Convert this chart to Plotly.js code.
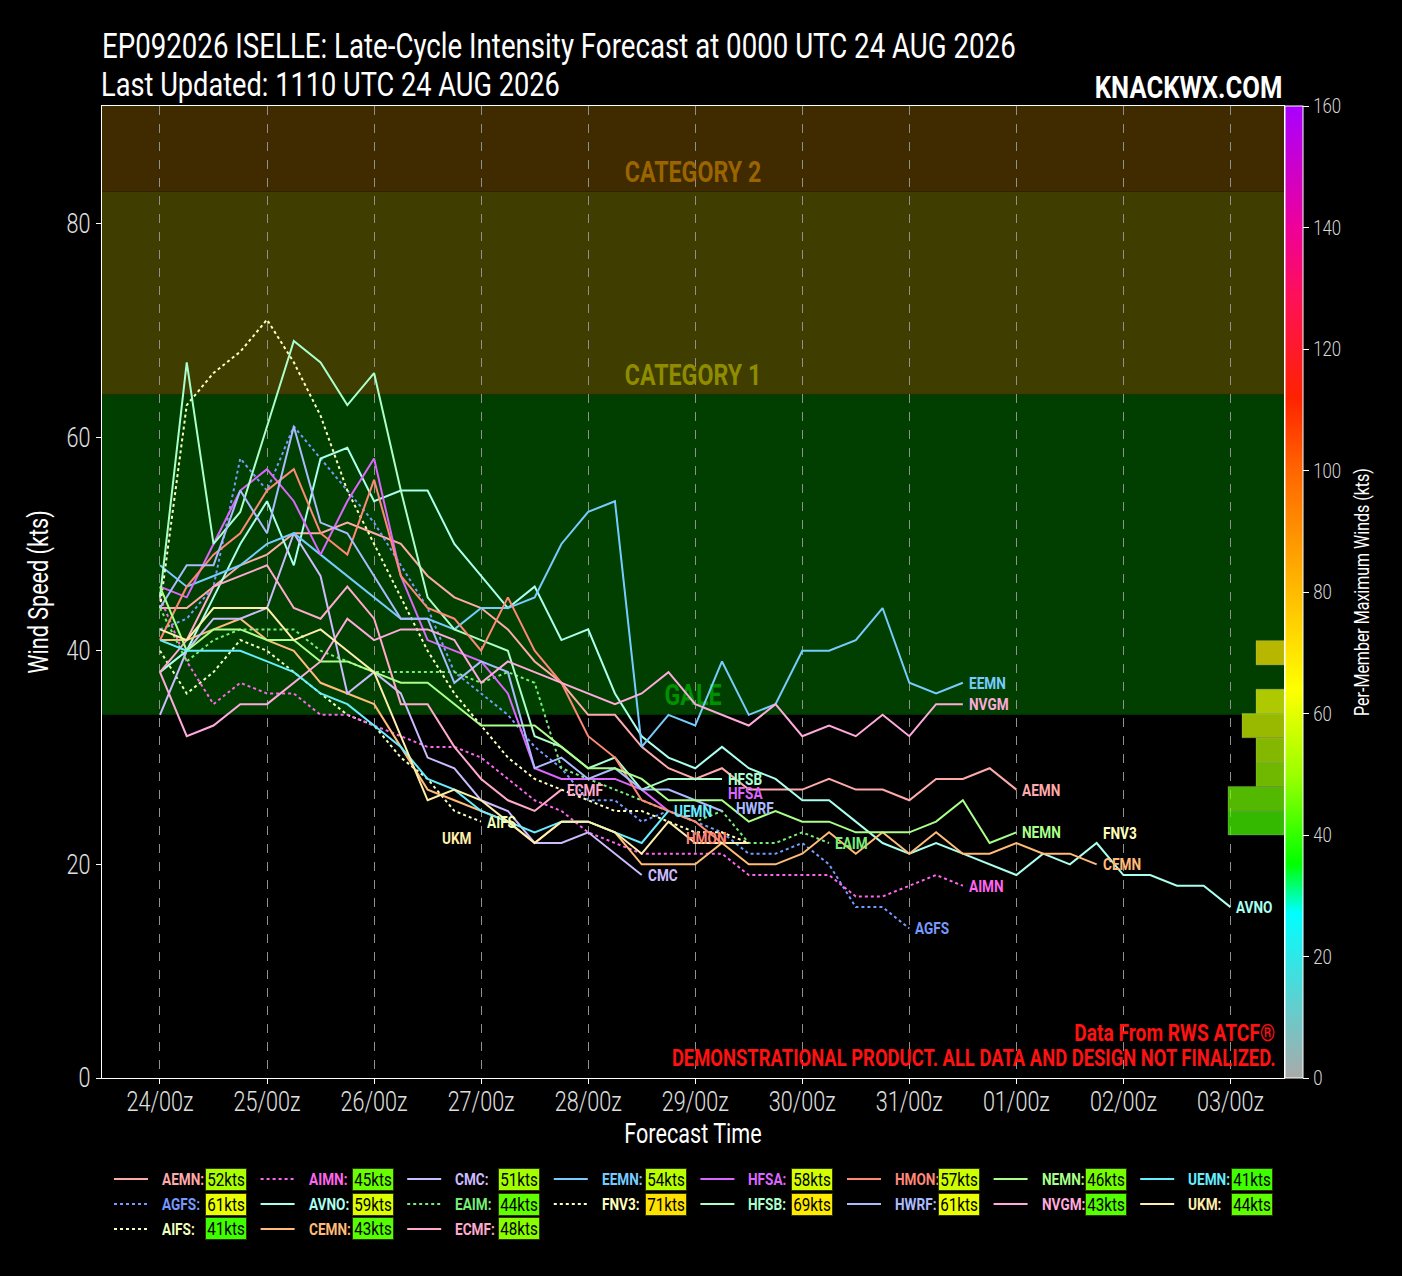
<!DOCTYPE html>
<html>
<head>
<meta charset="utf-8">
<script src="https://cdn.plot.ly/plotly-3.0.1.min.js"></script>
<style>
html,body{margin:0;padding:0;background:#000;}
#chart{width:1402px;height:1276px;}
</style>
</head>
<body>
<div id="chart"></div>
<script>
// ---------------- DATA ----------------
const FHOURS = [0,6,12,18,24,30,36,42,48,54,60,66,72,78,84,90,96,102,108,114,120,126,132,138,144,150,156,162,168,174,180,186,192,198,204,210,216,222,228,234,240];
const MODELS = ['AEMN','AGFS','AIFS','AIMN','AVNO','CEMN','CMC','EAIM','ECMF','EEMN','FNV3','HFSA','HFSB','HMON','HWRF','NEMN','NVGM','UEMN','UKM'];

const AEMN = [44,44,46,48,49,51,51,52,51,50,47,45,44,42,39,37,34,34,31,29,28,29,27,27,27,28,27,27,26,28,28,29,27];
const AGFS = [42,43,46,58,55,61,58,55,52,48,44,38,36,34,31,29,26,26,24,25,24,23,21,21,22,20,16,16,14];
const AIFS = [40,36,38,41,40,38,36,34,33,30,28,25,24];
const AIMN = [45,39,35,37,36,36,34,34,33,32,31,31,30,28,26,25,23,22,21,21,21,21,19,19,19,19,17,17,18,19,18];
const AVNO = [38,40,45,50,54,48,58,59,54,55,55,50,47,44,46,41,42,36,32,30,29,31,29,28,26,26,24,22,21,22,21,20,19,21,20,22,19,19,18,18,16];
const CEMN = [41,41,42,43,41,40,37,36,35,31,27,26,25,24,22,24,24,23,20,20,20,22,20,20,21,23,21,23,21,23,21,21,22,21,21,20];
const CMC  = [34,40,43,43,44,51,47,36,38,36,30,29,26,25,22,22,23,21,19];
const EAIM = [44,39,41,42,42,42,40,39,38,38,38,38,37,38,37,29,28,27,26,25,24,25,22,22,23,22];
const ECMF = [38,41,46,47,48,44,43,46,43,35,35,31,28,26,25,27];
const EEMN = [48,46,47,48,50,51,49,47,45,43,43,42,44,44,45,50,53,54,31,34,33,39,34,35,40,40,41,44,37,36,37];
const FNV3 = [44,63,66,68,71,67,62,55,50,45,40,36,33,30,28,27,26,25,25,24,23,23,22];
const HFSA = [46,45,50,55,57,54,49,54,58,47,41,40,39,36,29,28,28,28,27,25];
const HFSB = [45,67,50,53,61,69,67,63,66,55,45,42,41,40,32,31,29,30,27,28,28,28];
const HMON = [41,46,49,51,55,57,51,49,56,47,44,43,40,45,40,37,32,30,26,25,24,22];
const HWRF = [44,48,48,55,51,61,52,51,47,43,43,37,39,38,29,30,28,29,27,27,26,25];
const NEMN = [46,40,42,42,41,41,39,39,38,37,37,35,33,33,33,31,29,29,28,26,26,26,24,25,24,24,23,23,23,24,26,22,23];
const NVGM = [38,32,33,35,35,37,39,43,41,42,42,41,37,39,38,37,36,35,36,38,35,34,33,35,32,33,32,34,32,35,35];
const UEMN = [41,40,40,40,39,38,36,35,33,31,28,27,25,24,23,24,24,23,22,25];
const UKM  = [42,41,44,44,44,41,42,40,38,32,26,27,26,24,22,24,24,23,21,24,22,22,22];

const SERIES = {AEMN,AGFS,AIFS,AIMN,AVNO,CEMN,CMC,EAIM,ECMF,EEMN,FNV3,HFSA,HFSB,HMON,HWRF,NEMN,NVGM,UEMN,UKM};

// intensity bands (kts)
const BAND_NAMES = ['GALE','CATEGORY 1','CATEGORY 2'];
const BAND_LOW  = [34, 64, 83];
const BAND_HIGH = [64, 83, 96];

// histogram bins of per-member maximum winds
const BIN_START = 0, BIN_SIZE = 4, BIN_END = 160;

// ---------------- STYLE ----------------
const COLORS = {AEMN:'#ffaaaa',AGFS:'#7799ff',AIFS:'#eeffbb',AIMN:'#ff66ee',AVNO:'#aaffee',CEMN:'#ffbb77',CMC:'#ccbbff',EAIM:'#77ee77',ECMF:'#ffaacc',EEMN:'#77ccff',FNV3:'#ffffbb',HFSA:'#dd66ff',HFSB:'#aaffcc',HMON:'#ff8877',HWRF:'#aabbff',NEMN:'#aaff88',NVGM:'#ffaadd',UEMN:'#66eeff',UKM:'#ffeeaa'};
const DOTTED = {AGFS:1,AIFS:1,AIMN:1,EAIM:1,FNV3:1};
const BAND_FILL = ['#003f00','#3f3d00','#402a00'];
const BAND_TEXT = ['#009000','#8f8c00','#9a6400'];
const FONT = 'Roboto, "Liberation Sans", sans-serif';
const SQUEEZE = 0.8;   // horizontal condensing of all text (condensed look)
const CSCALE = [[0,'#aaaaaa'],[0.07,'#66cccc'],[0.17,'#00ffff'],[0.22,'#00ff00'],[0.31,'#99ff00'],[0.40,'#ffff00'],[0.5,'#ffbb00'],[0.625,'#ff6600'],[0.70,'#ff2200'],[0.80,'#ff1155'],[0.875,'#ee0099'],[1,'#aa00ff']];
const XRANGE = ['2026-08-23 11:00','2026-09-03 12:00'];
// label placement tweaks for crowded end labels
const LABEL_OVERRIDE = {
  UKM:  {x:'2026-08-26 13:50', y:22.5},
  FNV3: {x:'2026-09-01 18:00', y:22.9},
  HMON: {x:'2026-08-28 20:30', y:22.5},
  HFSA: {x:'2026-08-29 06:00', y:26.7},
  HWRF: {dx:8, y:25.3}
};

// ---------------- HELPERS ----------------
const START = Date.UTC(2026,7,24,0,0,0);
function tstr(h){ return new Date(START + h*3600e3).toISOString().slice(0,16).replace('T',' '); }
function hex2rgb(h){ h=h.replace('#',''); return [parseInt(h.slice(0,2),16),parseInt(h.slice(2,4),16),parseInt(h.slice(4,6),16)]; }
function cs(v){ const f=Math.max(0,Math.min(1,v/160));
  for(let i=1;i<CSCALE.length;i++){ if(f<=CSCALE[i][0]){ const a=CSCALE[i-1],b=CSCALE[i]; const t=(f-a[0])/(b[0]-a[0]);
      const ca=hex2rgb(a[1]), cb=hex2rgb(b[1]); return 'rgb('+ca.map((c,k)=>Math.round(c+(cb[k]-c)*t)).join(',')+')'; } }
  return CSCALE[CSCALE.length-1][1]; }

const L=102, R=1284, T=106, B=1078;
const px2paperX = p => (p-L)/(R-L);
const px2paperY = p => (B-p)/(B-T);

// ---------------- TRACES ----------------
const traces = [];
const annotations = [];
const shapes = [];
const maxes = {};

// band labels (drawn first so the member lines pass over them)
const midT = new Date((Date.parse(XRANGE[0]+'Z')+Date.parse(XRANGE[1]+'Z'))/2).toISOString().slice(0,16).replace('T',' ');
traces.push({type:'scatter',mode:'text',x:BAND_NAMES.map(()=>midT),y:BAND_LOW.map(v=>v+1.6),text:BAND_NAMES,
  textposition:'middle center',textfont:{family:FONT,size:29,color:BAND_TEXT,weight:'bold'},
  hoverinfo:'skip',showlegend:false,cliponaxis:false});

MODELS.forEach(m=>{
  const v = SERIES[m];
  maxes[m] = Math.max(...v);
  traces.push({type:'scatter',mode:'lines',name:m,x:v.map((_,i)=>tstr(FHOURS[i])),y:v,
    line:{color:COLORS[m],width:2,dash:DOTTED[m]?'dot':'solid'},showlegend:false,hoverinfo:'skip',xaxis:'x',yaxis:'y'});
  const o = LABEL_OVERRIDE[m]||{};
  annotations.push({x:o.x||tstr(FHOURS[v.length-1]),y:(o.y!==undefined?o.y:v[v.length-1]),xref:'x',yref:'y',
    text:'<b>'+m+'</b>',showarrow:false,xanchor:'left',align:'left',yanchor:'middle',xshift:4+(o.dx||0),
    font:{family:FONT,size:17,color:COLORS[m]}});
});

// histogram of maxima
const binCenters=[], binCounts=[];
for(let lo=BIN_START; lo<BIN_END; lo+=BIN_SIZE){
  const c = MODELS.filter(m=>maxes[m]>=lo && maxes[m]<lo+BIN_SIZE).length;
  if(c>0){ binCenters.push(lo+BIN_SIZE/2); binCounts.push(c); }
}
traces.push({type:'bar',orientation:'h',x:binCounts,y:binCenters,width:BIN_SIZE,xaxis:'x2',yaxis:'y2',
  hoverinfo:'skip',showlegend:false,opacity:0.72,
  marker:{color:binCenters,colorscale:CSCALE,cmin:0,cmax:160,showscale:true,
    line:{color:'rgba(255,255,255,0.25)',width:1},
    colorbar:{x:1.0005,xanchor:'left',xpad:0,ypad:0,y:0.5,yanchor:'middle',len:1,lenmode:'fraction',thickness:18,
      outlinecolor:'#ffffff',outlinewidth:1,ticks:'outside',ticklen:6,tickcolor:'#ffffff',tickwidth:1,
      tickvals:[0,20,40,60,80,100,120,140,160],
      tickfont:{family:FONT,size:21,color:'#d8d8d8',weight:300},
      title:{text:'Per-Member Maximum Winds (kts)',side:'right',font:{family:FONT,size:20,color:'#ffffff'}}}}
});

// bands
BAND_NAMES.forEach((nm,i)=>{
  shapes.push({type:'rect',xref:'paper',yref:'y',x0:0,x1:1,y0:BAND_LOW[i],y1:BAND_HIGH[i],fillcolor:BAND_FILL[i],line:{width:0},layer:'below'});
});

// custom legend (8 columns, column-major like matplotlib)
const NCOL=8, nrows=Math.ceil(MODELS.length/NCOL), extra=MODELS.length-NCOL*(nrows-1);
let idx=0;
for(let c=0;c<NCOL;c++){
  const n = c<extra? nrows : nrows-1;
  for(let r=0;r<n;r++){
    const m = MODELS[idx++]; if(!m) break;
    const x0 = 114 + c*146.6, yc = 1179 + r*25;
    shapes.push({type:'line',xref:'paper',yref:'paper',x0:px2paperX(x0),x1:px2paperX(x0+34),y0:px2paperY(yc),y1:px2paperY(yc),
      line:{color:COLORS[m],width:2,dash:DOTTED[m]?'dot':'solid'}});
    annotations.push({xref:'paper',yref:'paper',x:px2paperX(x0+46),y:px2paperY(yc),text:'<b>'+m+':</b>',showarrow:false,
      xanchor:'left',align:'left',yanchor:'middle',font:{family:FONT,size:17,color:COLORS[m]}});
    annotations.push({xref:'paper',yref:'paper',x:px2paperX(x0+91),y:px2paperY(yc),text:maxes[m]+'kts',showarrow:false,
      xanchor:'left',yanchor:'middle',bgcolor:cs(maxes[m]),bordercolor:'#333300',borderwidth:1,borderpad:1,width:38,height:19,
      font:{family:FONT,size:19,color:'#000000'}});
  }
}

// header / footer texts
annotations.push({xref:'paper',yref:'paper',x:0,y:px2paperY(84),xshift:-3,text:'Last Updated: 1110 UTC 24 AUG 2026',showarrow:false,xanchor:'left',align:'left',yanchor:'middle',
  font:{family:FONT,size:34,color:'#ffffff'}});
annotations.push({xref:'paper',yref:'paper',x:1,y:px2paperY(87),text:'<b>KNACKWX.COM</b>',showarrow:false,xanchor:'right',align:'right',yanchor:'middle',
  font:{family:FONT,size:32,color:'#ffffff'}});
annotations.push({xref:'paper',yref:'paper',x:px2paperX(1277),y:px2paperY(1033),text:'<b>Data From RWS ATCF®</b>',showarrow:false,xanchor:'right',align:'right',yanchor:'middle',
  font:{family:FONT,size:24,color:'#ff1111'}});
annotations.push({xref:'paper',yref:'paper',x:px2paperX(1277),y:px2paperY(1058),text:'<b>DEMONSTRATIONAL PRODUCT. ALL DATA AND DESIGN NOT FINALIZED.</b>',showarrow:false,xanchor:'right',align:'right',yanchor:'middle',
  font:{family:FONT,size:23,color:'#ff1111'}});

const layout = {
  width:1402,height:1276,
  paper_bgcolor:'#000000',plot_bgcolor:'#000000',
  margin:{l:L,r:1402-R,t:T,b:1276-B,pad:0},
  font:{family:FONT,color:'#ffffff'},
  title:{text:'EP092026 ISELLE: Late-Cycle Intensity Forecast at 0000 UTC 24 AUG 2026',
    x:L/1402,xanchor:'left',xref:'container',y:1-46/1276,yanchor:'middle',yref:'container',
    font:{family:FONT,size:34.6,color:'#ffffff'}},
  xaxis:{type:'date',range:XRANGE,tick0:'2026-08-24',dtick:86400000,tickformat:'%d/%Hz',
    showgrid:true,gridcolor:'#909090',griddash:'dash',gridwidth:1,zeroline:false,
    showline:true,mirror:true,linecolor:'#ffffff',linewidth:1,ticks:'outside',ticklen:5,tickcolor:'#ffffff',
    ticklabelstandoff:-5,
    tickfont:{family:FONT,size:27,color:'#e0e0e0',weight:300},
    title:{text:'Forecast Time',font:{family:FONT,size:27,color:'#ffffff'},standoff:0}},
  yaxis:{range:[0,91],dtick:20,showgrid:false,zeroline:false,showline:true,mirror:true,linecolor:'#ffffff',linewidth:1,
    ticks:'outside',ticklen:5,tickcolor:'#ffffff',tickfont:{family:FONT,size:27,color:'#e0e0e0',weight:300},
    title:{text:'Wind Speed (kts)',font:{family:FONT,size:27,color:'#ffffff'},standoff:4}},
  xaxis2:{overlaying:'x',range:[(R-L)/14,0],visible:false,fixedrange:true},
  yaxis2:{overlaying:'y',range:[0,160],visible:false,fixedrange:true},
  shapes:shapes,annotations:annotations,
  bargap:0,showlegend:false
};
Plotly.newPlot('chart',traces,layout,{staticPlot:true,displayModeBar:false}).then(gd=>{
  gd.querySelectorAll('svg text').forEach(t=>{
    const w = t.getComputedTextLength();
    if(w>0){ t.setAttribute('textLength',(w*SQUEEZE).toFixed(1)); t.setAttribute('lengthAdjust','spacingAndGlyphs'); }
  });
});
</script>
</body>
</html>
